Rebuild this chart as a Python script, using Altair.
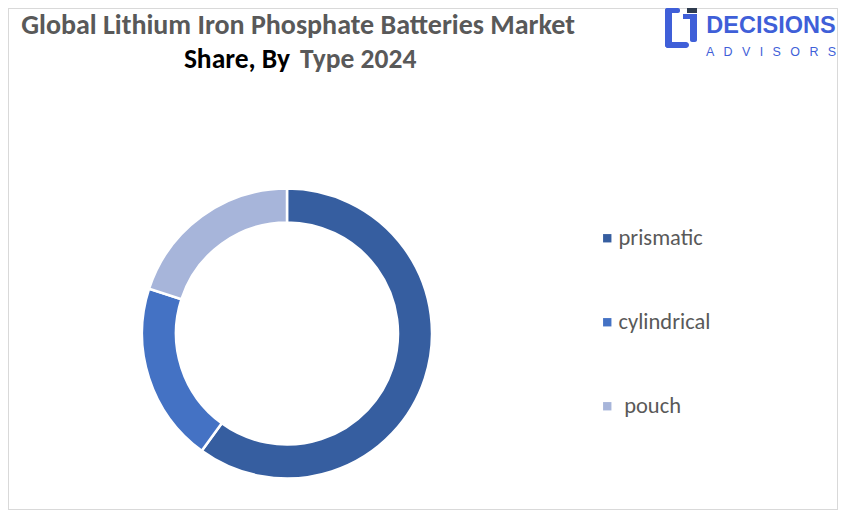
import altair as alt
import pandas as pd

# ---- data ----
types = ["prismatic", "cylindrical", "pouch"]
shares = [60, 20, 20]
colors = ["#365EA0", "#4472C4", "#A7B5DA"]

title_line1 = "Global Lithium Iron Phosphate Batteries Market"
title_line2a = "Share, By"
title_line2b = "Type 2024"
brand_top = "DECISIONS"
brand_bottom = "\u2002\u2005".join(list("ADVISORS"))

FONT = "Carlito, 'Liberation Sans Narrow', Lato, sans-serif"
W, H = 830, 502
BLUE = "#3F5FD8"

df = pd.DataFrame({"type": types, "share": shares, "order": list(range(len(types)))})

donut = alt.Chart(df).mark_arc(
    radius=145, radius2=111, stroke="white", strokeWidth=2.5
).encode(
    theta=alt.Theta("share:Q", stack=True),
    order=alt.Order("order:Q"),
    color=alt.Color(
        "type:N",
        scale=alt.Scale(domain=types, range=colors),
        legend=alt.Legend(
            title=None, orient="none", legendX=588, legendY=219,
            symbolType="square", symbolSize=70, symbolStrokeWidth=0,
            labelFont=FONT, labelFontSize=22.5, labelColor="#595959",
            rowPadding=61, labelOffset=0, padding=0,
            labelExpr="datum.label == 'pouch' ? '\u200b\u2005pouch' : datum.label",
        ),
    ),
    x=alt.value(279),
    y=alt.value(325.5),
)

def txt(s, x, y, size, color, weight="bold", align="center", font=FONT):
    return alt.Chart(pd.DataFrame({"t": [s]})).mark_text(
        font=font, fontSize=size, fontWeight=weight, color=color,
        align=align, baseline="alphabetic",
    ).encode(text="t:N", x=alt.value(x - 8), y=alt.value(y - 8))

def box(x1, y1, x2, y2, color, r=0):
    return alt.Chart(pd.DataFrame({"a": [0]})).mark_rect(
        color=color, cornerRadius=r
    ).encode(x=alt.value(x1 - 8), x2=alt.value(x2 - 8),
             y=alt.value(y1 - 8), y2=alt.value(y2 - 8))

border = alt.Chart(pd.DataFrame({"a": [0]})).mark_rect(
    fill="white", stroke="#D9D9D9", strokeWidth=2
).encode(x=alt.value(0), x2=alt.value(W), y=alt.value(0), y2=alt.value(H))

t1 = txt(title_line1, 298, 34, 28, "#595959")
t2a = txt(title_line2a, 290, 67.5, 27.5, "#000000", align="right")
t2b = txt(title_line2b, 300, 67.5, 27.5, "#595959", align="left")

logo = [
    box(665, 8, 672, 48, BLUE, 3),
    box(665, 8, 680, 13, BLUE, 2),
    box(665, 42, 689, 48, BLUE, 3),
    box(683, 14, 697, 19, BLUE),
    box(690, 14, 697, 42, BLUE, 2),
    box(687, 8, 697, 13, "#2E3B4E"),
]
b1 = txt(brand_top, 771, 33, 23.5, BLUE, font="'Liberation Sans', Arial, sans-serif")
b2 = txt(brand_bottom, 771, 56, 12.5, BLUE, weight="normal",
         font="'Liberation Sans', Arial, sans-serif")

chart = alt.layer(border, donut, t1, t2a, t2b, *logo, b1, b2).properties(
    width=W, height=H, padding=0, autosize=alt.AutoSizeParams(type="none")
).configure_view(stroke=None)

chart.save("out.html", embed_options={"renderer": "svg", "actions": False})
